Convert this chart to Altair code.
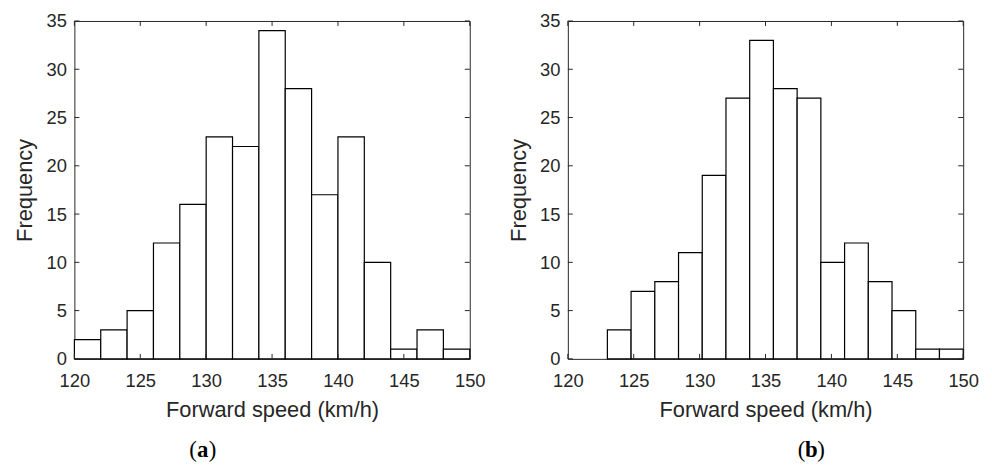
import altair as alt
import pandas as pd

# ---- data ----
edges_a = [120, 122, 124, 126, 128, 130, 132, 134, 136, 138, 140, 142, 144, 146, 148, 150]
counts_a = [2, 3, 5, 12, 16, 23, 22, 34, 28, 17, 23, 10, 1, 3, 1]

edges_b = [123.0, 124.8, 126.6, 128.4, 130.2, 132.0, 133.8, 135.6, 137.4, 139.2,
           141.0, 142.8, 144.6, 146.4, 148.2, 150.0]
counts_b = [3, 7, 8, 11, 19, 27, 33, 28, 27, 10, 12, 8, 5, 1, 1]

x_ticks = [120, 125, 130, 135, 140, 145, 150]
y_ticks = [0, 5, 10, 15, 20, 25, 30, 35]

x_title = "Forward speed (km/h)"
y_title = "Frequency"

W, H = 399, 341
TICK = 5
INK = "#262626"
SANS = "Liberation Sans"
SERIF = "Liberation Serif"


def panel(edges, counts, letter, cap_x):
    df = pd.DataFrame({"x0": edges[:-1], "x1": edges[1:], "n": counts, "z": [0] * len(counts)})
    xs = alt.Scale(domain=[120, 150], nice=False, zero=False)
    ys = alt.Scale(domain=[0, 35], nice=False)
    xax = alt.Axis(values=x_ticks, title=x_title, ticks=False, domain=False, grid=False,
                   labelPadding=13, titlePadding=10, format="d", labelFlush=False)
    yax = alt.Axis(values=y_ticks, title=y_title, ticks=False, domain=False, grid=False,
                   labelPadding=8, titlePadding=9.5, format="d", labelFlush=False)

    bars = alt.Chart(df).mark_rect(fill="white", stroke="black", strokeWidth=1.2).encode(
        x=alt.X("x0:Q", scale=xs, axis=xax),
        x2="x1:Q",
        y=alt.Y("n:Q", scale=ys, axis=yax),
        y2="z:Q",
    )

    xt = pd.DataFrame({"v": x_ticks})
    yt = pd.DataFrame({"v": y_ticks})
    tick_style = dict(color=INK, strokeWidth=1)
    xb = alt.Chart(xt).mark_rule(**tick_style).encode(
        x=alt.X("v:Q", scale=xs, axis=xax), y=alt.value(H), y2=alt.value(H - TICK))
    xtop = alt.Chart(xt).mark_rule(**tick_style).encode(
        x=alt.X("v:Q", scale=xs, axis=xax), y=alt.value(0), y2=alt.value(TICK))
    yl = alt.Chart(yt).mark_rule(**tick_style).encode(
        y=alt.Y("v:Q", scale=ys, axis=yax), x=alt.value(0), x2=alt.value(TICK))
    yr = alt.Chart(yt).mark_rule(**tick_style).encode(
        y=alt.Y("v:Q", scale=ys, axis=yax), x=alt.value(W), x2=alt.value(W - TICK))

    cap_y = 433
    c1 = alt.Chart(pd.DataFrame({"t": ["("]})).mark_text(
        font=SERIF, fontSize=23, align="right", baseline="middle", color="black").encode(
        x=alt.value(cap_x - 6), y=alt.value(cap_y), text="t:N")
    c2 = alt.Chart(pd.DataFrame({"t": [letter]})).mark_text(
        font=SERIF, fontSize=23, fontWeight="bold", align="center", baseline="middle", color="black").encode(
        x=alt.value(cap_x), y=alt.value(cap_y), text="t:N")
    c3 = alt.Chart(pd.DataFrame({"t": [")"]})).mark_text(
        font=SERIF, fontSize=23, align="left", baseline="middle", color="black").encode(
        x=alt.value(cap_x + 6), y=alt.value(cap_y), text="t:N")

    return alt.layer(bars, xb, xtop, yl, yr, c1, c2, c3).properties(width=W, height=H)


left = panel(edges_a, counts_a, "a", 129.5)
right = panel(edges_b, counts_b, "b", 245.7)

chart = alt.hconcat(left, right, spacing=99, bounds="flush").properties(
    padding={"left": 5, "top": 1, "right": 5, "bottom": 0},
    background="white",
).configure_view(
    stroke=INK, strokeWidth=1
).configure_axis(
    labelFont=SANS, labelFontSize=18.5, labelColor=INK,
    titleFont=SANS, titleFontSize=22, titleColor=INK, titleFontWeight="normal",
)

chart.save("out.html", embed_options={"renderer": "svg", "actions": False})
